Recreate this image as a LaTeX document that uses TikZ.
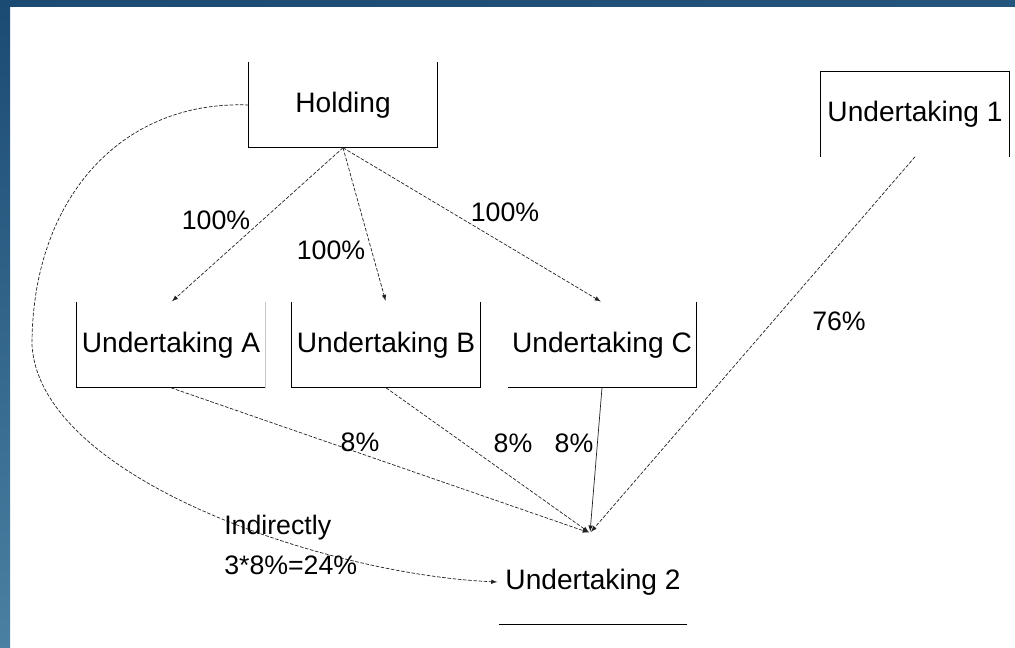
\documentclass[tikz,border=0pt]{standalone}
\usepackage{fontspec}
\setmainfont{Liberation Sans}
\usetikzlibrary{arrows,positioning}

\definecolor{frameblue}{HTML}{1B4A73}
\definecolor{framelight}{HTML}{4A80A2}
\definecolor{linegray}{HTML}{222222}

\tikzset{
  unit/.style={minimum width=4.7cm,minimum height=2.125cm,inner sep=0pt,
    font=\fontsize{20}{24}\selectfont},
  border/.style={line width=0.7pt},
  link/.style={draw=linegray,line width=0.5pt,dash pattern=on 2.5pt off 1.2pt,-latex,shorten >=1pt},
  share/.style={font=\fontsize{19}{23}\selectfont,inner sep=0pt}
}

\begin{document}
\begin{tikzpicture}[x=0.025cm,y=-0.025cm]
  \useasboundingbox (0,0) rectangle (1015,648);
  % slide frame
  \fill[left color=frameblue,right color=frameblue!80!framelight] (0,0) rectangle (1015,7);
  \fill[top color=frameblue,bottom color=framelight] (0,0) rectangle (10,648);

  % undertakings
  \node[unit] (hold) at (343,105) {Holding};
  \node[unit] (u1) at (915,114) {Undertaking 1};
  \node[unit] (ua) at (171,345) {Undertaking A};
  \node[unit] (ub) at (386,345) {Undertaking B};
  \node[unit] (uc) at (602,345) {Undertaking C};
  \node[unit] (u2) at (593,582) {Undertaking 2};
  \coordinate (meet) at (590,533);

  % open box borders
  \draw[border] (hold.north west) -- (hold.south west) -- (hold.south east) -- (hold.north east);
  \draw[border] (u1.south west) -- (u1.north west) -- (u1.north east) -- (u1.south east);
  \draw[border] (ua.north west) -- (ua.south west) -- (ua.south east);
  \draw[border,gray!45] (ua.south east) -- (ua.north east);
  \draw[border] (ub.north west) -- (ub.south west) -- (ub.south east) -- (ub.north east);
  \draw[border] (uc.south west) -- (uc.south east) -- (uc.north east);
  \draw[border] (u2.south west) -- (u2.south east);

  % direct holdings
  \draw[link] (hold.south) -- (ua.north);
  \draw[link] (hold.south) -- (ub.north);
  \draw[link] (hold.south) -- (uc.north);
  \node[share] (pa) at (216,220) {100\%};
  \node[share] (pb) at (331,250) {100\%};
  \node[share] (pc) at (505,212) {100\%};

  % stakes in undertaking 2
  \draw[link] (ua.south) -- (meet);
  \draw[link] (ub.south) -- (meet);
  \draw[draw=linegray,line width=0.5pt,-latex,shorten >=1pt] (uc.south) -- (meet);
  \draw[link] (u1.south) -- (meet);
  \node[share] (sa) at (360,442) {8\%};
  \node[share] (sb) at (513,443) {8\%};
  \node[share] (sc) at (574,443) {8\%};
  \node[share] (s1) at (839,321) {76\%};

  % indirect stake
  \draw[link] (hold.west) .. controls (120,100) and (32,200) .. (32,345)
    .. controls (40,480) and (330,575) .. (u2.west);
  \node[share,align=left,anchor=west,font=\fontsize{19}{28}\selectfont] (ind) at (224,545)
    {Indirectly\\3*8\%=24\%};
\end{tikzpicture}
\end{document}
